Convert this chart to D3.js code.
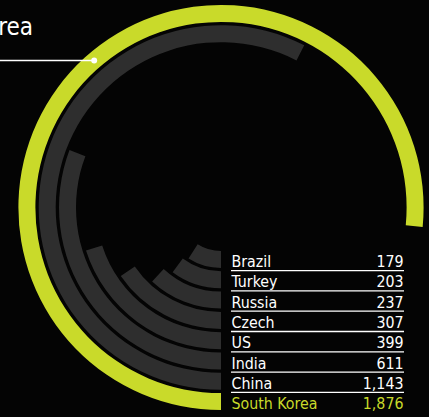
<!DOCTYPE html>
<html>
<head>
<meta charset="utf-8">
<script src="https://cdn.jsdelivr.net/npm/d3@7"></script>
<style>
  html, body { margin: 0; padding: 0; background: #040404; }
  svg { display: block; }
  text { font-family: "DejaVu Sans Condensed", "DejaVu Sans", sans-serif; font-stretch: condensed; }
</style>
</head>
<body>
<svg id="chart" width="429" height="417"></svg>
<script>
// countries from the inside ring outwards
const countries = ['Brazil', 'Turkey', 'Russia', 'Czech', 'US', 'India', 'China', 'South Korea'];
const values = [179, 203, 237, 307, 399, 611, 1143, 1876];
const valueLabels = ['179', '203', '237', '307', '399', '611', '1,143', '1,876'];
const highlight = 'South Korea';

const W = 429, H = 417;
const cx = 221, cy = 207.5;
const YELLOW = '#c9da2a', GREY = '#2e2e2e';

const svg = d3.select('#chart');

// ring per country
const ring = d3.scaleBand()
  .domain(countries)
  .range([43.5, 202.6])
  .paddingInner(0.163)
  .paddingOuter(0);

// angle swept from the bottom, clockwise; long bars get clamped
const angle = d3.scaleLinear()
  .domain([0, 1520])
  .range([0, 275.5 * Math.PI / 180])
  .clamp(true);

const arc = d3.arc()
  .innerRadius(d => ring(d.name))
  .outerRadius(d => ring(d.name) + ring.bandwidth())
  .startAngle(Math.PI)
  .endAngle(d => Math.PI + angle(d.value));

const rows = countries.map((name, i) => ({ name, value: values[i], label: valueLabels[i] }));

const $g = svg.append('g').attr('transform', `translate(${cx},${cy})`);

$g.selectAll('path.bar')
  .data(rows)
  .enter()
  .append('path')
  .attr('class', 'bar')
  .attr('d', arc)
  .attr('fill', d => d.name === highlight ? YELLOW : GREY);

// table along the bottom right, one row per ring
const x0 = 231.5, x1 = 403.5;
const $table = svg.append('g');

$table.selectAll('text.name')
  .data(rows)
  .enter()
  .append('text')
  .attr('class', 'name')
  .attr('x', x0)
  .attr('y', d => cy + ring(d.name) + 16)
  .attr('font-size', 15.8)
  .attr('fill', d => d.name === highlight ? YELLOW : '#ffffff')
  .text(d => d.name);

$table.selectAll('text.val')
  .data(rows)
  .enter()
  .append('text')
  .attr('class', 'val')
  .attr('x', x1)
  .attr('y', d => cy + ring(d.name) + 16)
  .attr('text-anchor', 'end')
  .attr('font-size', 15.8)
  .attr('fill', d => d.name === highlight ? YELLOW : '#ffffff')
  .text(d => d.label);

$table.selectAll('line.sep')
  .data(rows.filter(d => d.name !== highlight))
  .enter()
  .append('line')
  .attr('class', 'sep')
  .attr('x1', x0 - 0.5)
  .attr('x2', x1 + 0.5)
  .attr('y1', d => cy + ring(d.name) + ring.bandwidth() + 2.6)
  .attr('y2', d => cy + ring(d.name) + ring.bandwidth() + 2.6)
  .attr('stroke', '#ffffff')
  .attr('stroke-width', 1.3);

// callout for the highlighted ring
const calloutA = -40.8 * Math.PI / 180;
const calloutR = ring(highlight) + ring.bandwidth() / 2;
const dot = [cx + calloutR * Math.sin(calloutA), cy - calloutR * Math.cos(calloutA)];

svg.append('line')
  .attr('x1', 0).attr('x2', dot[0])
  .attr('y1', dot[1]).attr('y2', dot[1])
  .attr('stroke', '#ffffff')
  .attr('stroke-width', 1.5);

svg.append('circle')
  .attr('cx', dot[0]).attr('cy', dot[1])
  .attr('r', 3)
  .attr('fill', '#ffffff');

svg.append('text')
  .attr('x', 33)
  .attr('y', 35)
  .attr('text-anchor', 'end')
  .attr('font-size', 24)
  .attr('fill', '#ffffff')
  .text(highlight);
</script>
</body>
</html>
